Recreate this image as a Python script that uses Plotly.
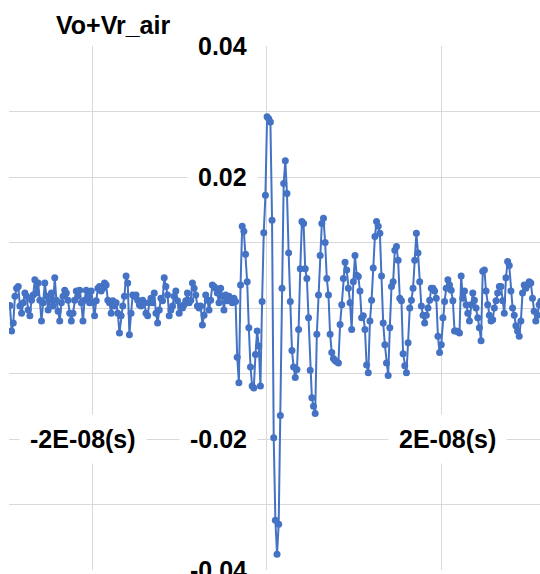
import numpy as np
import plotly.graph_objects as go

# ---- data (time base: start and sample step in ns) ----
T0_NS = -29.44
DT_NS = 0.19

pre_noise = [
    0.0004, -0.0035, -0.0023, 0.0018, 0.0030, 0.0033, 0.0003, -0.0008, 0.0008, 0.0023,
    0.0018, -0.0003, -0.0012, 0.0012, 0.0020, 0.0043, 0.0023, 0.0038, 0.0012, -0.0020,
    0.0008, 0.0038, 0.0018, -0.0003, 0.0012, 0.0023, 0.0003, 0.0046, 0.0012, -0.0005,
    -0.0020, 0.0008, 0.0018, 0.0027, 0.0023, 0.0012, -0.0008, -0.0020, -0.0008, 0.0012,
    0.0026, 0.0018, 0.0027, 0.0008, -0.0020, 0.0012, 0.0027, 0.0018, 0.0008, 0.0026,
    0.0008, -0.0012, 0.0011, 0.0030, 0.0033, 0.0026, 0.0030, 0.0038, 0.0035, 0.0012,
    0.0008, -0.0008, 0.0011, 0.0003, 0.0008, -0.0008, -0.0038, -0.0012, 0.0003, 0.0018,
    0.0049, 0.0038, -0.0041, -0.0008, 0.0020, 0.0018, 0.0020, 0.0012, 0.0005, 0.0003,
    0.0012, 0.0008, -0.0008, -0.0012, 0.0008, 0.0015, 0.0008, 0.0023, -0.0008, -0.0023,
    -0.0003, 0.0015, 0.0011, 0.0046, 0.0033, 0.0020, -0.0012, -0.0003, 0.0003, 0.0018,
    0.0026, 0.0011, -0.0008, 0.0003, 0.0000, 0.0005, 0.0011, 0.0023, 0.0008, 0.0012,
    0.0038, 0.0030, 0.0020, 0.0003, 0.0000, 0.0003, -0.0026, -0.0011, 0.0020, 0.0012,
    -0.0003, 0.0012, 0.0035, 0.0033, 0.0030, 0.0023, 0.0008, 0.0030, 0.0018, -0.0003,
    0.0020, 0.0011, 0.0018, 0.0012, 0.0008, 0.0015,
]

burst = [
    0.0010, -0.0075, -0.0114, 0.0035, 0.0125, 0.0117, 0.0082, 0.0040, -0.0030, -0.0090,
    -0.0119, -0.0122, -0.0071, -0.0035, -0.0058, -0.0119, 0.0010, 0.0115, 0.0172, 0.0292,
    0.0289, 0.0284, 0.0134, -0.0198, -0.0324, -0.0376, -0.0330, -0.0164, 0.0030, 0.0190,
    0.0225, 0.0175, 0.0084, 0.0010, -0.0065, -0.0090, -0.0106, -0.0094, -0.0033, 0.0060,
    0.0132, 0.0129,
]

tail = [
    0.0060, 0.0045, -0.0015, -0.0095, -0.0137, -0.0150, -0.0161, -0.0040, 0.0020, 0.0080,
    0.0129, 0.0137, 0.0100, 0.0045, 0.0020, -0.0040, -0.0068, -0.0077, -0.0080, -0.0082,
    -0.0084, -0.0025, 0.0005, 0.0045, 0.0070, 0.0058, 0.0030, 0.0008, -0.0033, 0.0040,
    0.0080, 0.0050, 0.0048, 0.0026, -0.0015, -0.0012, -0.0033, -0.0087, -0.0099, -0.0020,
    0.0012, 0.0061, 0.0109, 0.0132, 0.0125, 0.0114, 0.0049, -0.0023, -0.0056, -0.0084,
    -0.0103, -0.0030, 0.0033, 0.0040, 0.0088, 0.0094, 0.0073, 0.0015, 0.0011, -0.0070,
    -0.0088, -0.0099, -0.0053, 0.0000, 0.0012, 0.0030, 0.0073, 0.0114, 0.0084, 0.0040,
    0.0003, -0.0011, -0.0023, -0.0011, 0.0000, 0.0012, 0.0030, 0.0030, 0.0026, 0.0015,
    -0.0043, -0.0068, -0.0056, -0.0015, 0.0010, 0.0030, 0.0043, 0.0035, 0.0027, 0.0011,
    -0.0035, -0.0035, -0.0036, -0.0038, 0.0049, 0.0015, 0.0026, 0.0005, -0.0008, -0.0020,
    0.0005, 0.0023, 0.0012, 0.0000, -0.0015, -0.0030, -0.0050, 0.0056, 0.0058, 0.0026,
    0.0005, -0.0011, -0.0020, -0.0018, 0.0000, 0.0011, 0.0023, 0.0033, 0.0033, 0.0011,
    -0.0008, 0.0046, 0.0071, 0.0065, 0.0026, 0.0000, -0.0011, -0.0027, -0.0035, -0.0043,
    -0.0020, 0.0023, 0.0035, 0.0030, 0.0035, 0.0040, 0.0038, 0.0015, -0.0005, -0.0020,
    -0.0011, 0.0005, 0.0010,
]

y_label_vals = [0.04, 0.02, -0.02, -0.04]
y_label_text = ["0.04", "0.02", "-0.02", "-0.04"]
x_label_vals = [-2e-8, 2e-8]
x_label_text = ["-2E-08(s)", "2E-08(s)"]
chart_title = "Vo+Vr_air"

# ---- figure ----
v = np.array(pre_noise + burst + tail)
t = (T0_NS + DT_NS * np.arange(len(v))) * 1e-9

BLUE = "#4472C4"
GRID = "#D9D9D9"
FONT = "Liberation Sans"
FS = 25

fig = go.Figure()
fig.add_trace(go.Scatter(
    x=t, y=v, mode="lines+markers",
    line=dict(color=BLUE, width=2),
    marker=dict(color=BLUE, size=7),
    hoverinfo="skip",
))

annotations = []
for val, txt in zip(y_label_vals, y_label_text):
    annotations.append(dict(
        x=0, y=val, xref="x", yref="y", text="<b>%s</b>" % txt,
        showarrow=False, xanchor="right", yanchor="middle", xshift=-9,
        bgcolor="white", borderpad=10,
        font=dict(family=FONT, size=FS, color="black"),
    ))
x_shifts = [-9, 6]
for val, txt, xs in zip(x_label_vals, x_label_text, x_shifts):
    annotations.append(dict(
        x=val, y=-0.02, xref="x", yref="y", text="<b>%s</b>" % txt,
        showarrow=False, xanchor="center", yanchor="middle", xshift=xs,
        bgcolor="white", borderpad=10,
        font=dict(family=FONT, size=FS, color="black"),
    ))
annotations.append(dict(
    x=0.196, y=1.040, xref="paper", yref="paper", text="<b>%s</b>" % chart_title,
    showarrow=False, xanchor="center", yanchor="middle",
    font=dict(family=FONT, size=FS, color="black"),
))

fig.update_layout(
    width=540, height=574,
    margin=dict(l=9, r=0, t=46, b=4),
    plot_bgcolor="white", paper_bgcolor="white",
    showlegend=False,
    hovermode=False,
    annotations=annotations,
    xaxis=dict(
        range=[-29.55e-9, 31.27e-9], tick0=0, dtick=2e-8,
        showgrid=True, gridcolor=GRID, gridwidth=1,
        zeroline=True, zerolinecolor=GRID, zerolinewidth=1,
        showticklabels=False, ticks="", showline=False,
    ),
    yaxis=dict(
        range=[-0.04, 0.04], tick0=0, dtick=0.01,
        showgrid=True, gridcolor=GRID, gridwidth=1,
        zeroline=True, zerolinecolor=GRID, zerolinewidth=1,
        showticklabels=False, ticks="", showline=False,
    ),
)

# remove the default page margin so the 540x574 figure fills the window exactly
fig.write_html(
    "out.html",
    config={"displayModeBar": False, "staticPlot": True},
    post_script="document.body.style.margin='0';document.body.style.overflow='hidden';",
)
